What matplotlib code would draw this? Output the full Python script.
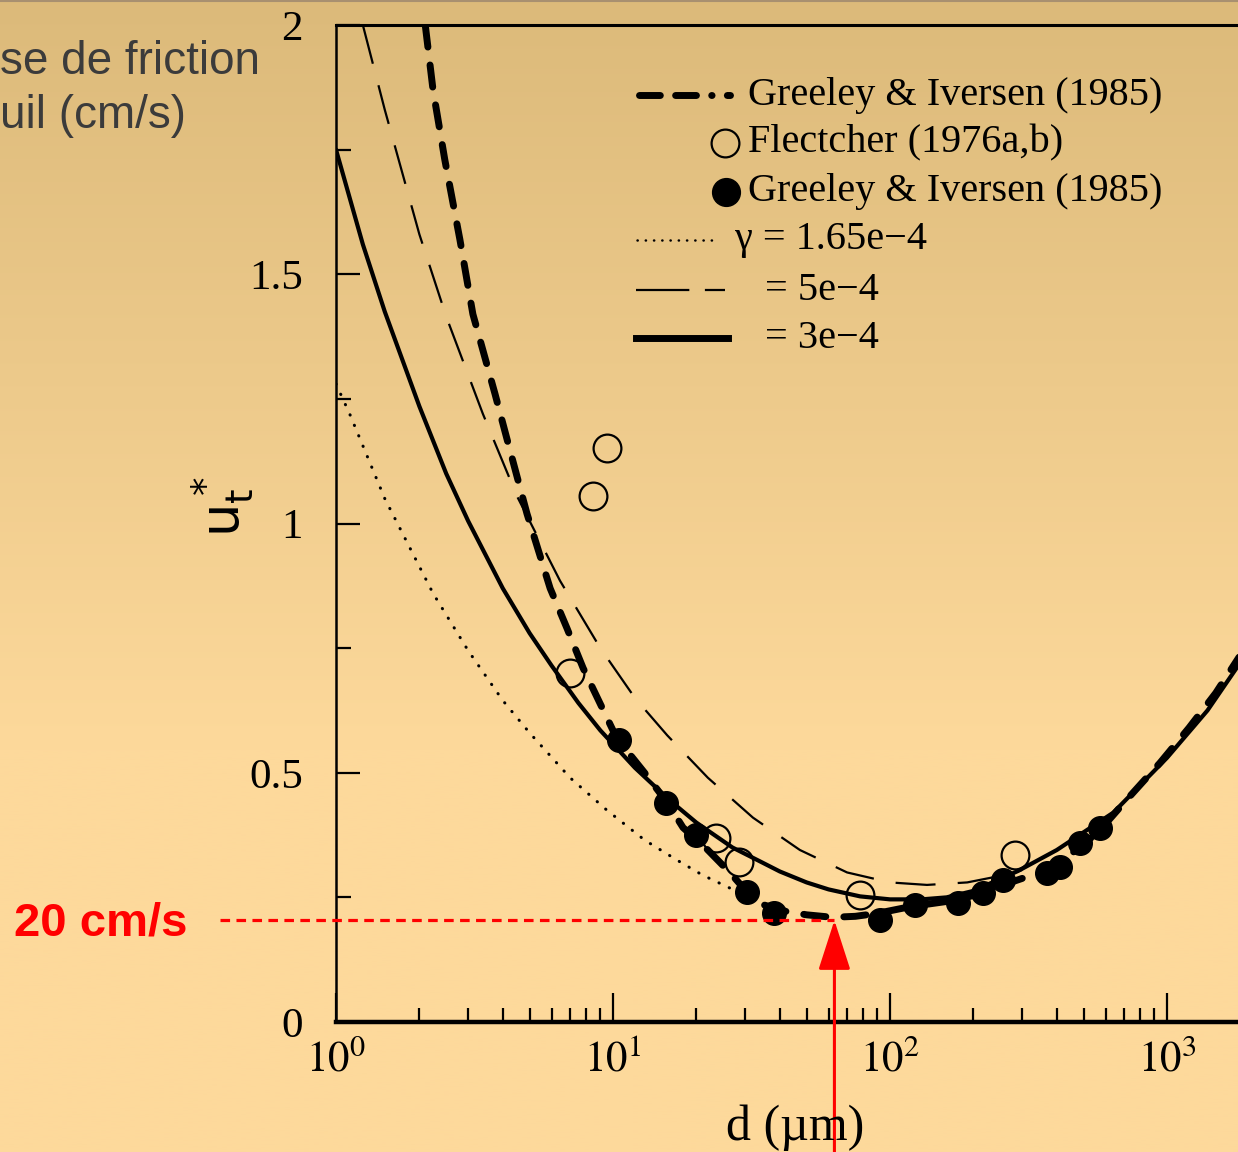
import numpy as np
import matplotlib
matplotlib.use("Agg")
import matplotlib.pyplot as plt
from matplotlib.ticker import LogLocator, NullFormatter, MultipleLocator

W, H = 1238, 1152

# courbes théoriques (d en µm, u*t en m/s)
d_g165 = [1.0, 1.12, 1.5, 2.24, 3.0, 4.0, 5.0, 7.0, 9.5, 13.0, 17.0, 21.0, 25.0, 28.0]
u_g165 = [1.28, 1.22, 1.05, 0.86, 0.745, 0.645, 0.58, 0.49, 0.425, 0.365, 0.325, 0.295, 0.275, 0.262]

d_g5 = [1.25, 1.5, 2.0, 2.5, 3.39, 4.5, 6.44, 9.0, 12.0, 15.7, 22.0, 32.0, 47.3, 70.0,
        100.0, 136.0, 190.0, 260.0, 300.0]
u_g5 = [2.0, 1.83, 1.58, 1.415, 1.22, 1.055, 0.885, 0.75, 0.65, 0.575, 0.49, 0.41, 0.345, 0.30,
        0.28, 0.275, 0.28, 0.295, 0.305]

d_g3 = [1.0, 1.25, 1.5, 2.0, 2.5, 3.0, 4.0, 5.0, 6.0, 7.5, 9.0, 12.0, 16.0, 20.0, 27.0, 34.0,
        40.0, 50.0, 60.0, 78.0, 100.0, 130.0, 160.0, 200.0, 290.0, 400.0, 640.0, 1000.0,
        1400.0, 1860.0]
u_g3 = [1.75, 1.56, 1.425, 1.235, 1.10, 1.005, 0.87, 0.78, 0.715, 0.64, 0.585, 0.51, 0.445, 0.40,
        0.35, 0.322, 0.302, 0.28, 0.266, 0.252, 0.246, 0.246, 0.25, 0.263, 0.303, 0.345, 0.42,
        0.53, 0.625, 0.725]

# courbe Greeley & Iversen (1985)
d_gi_curve = [2.1, 2.24, 2.47, 2.8, 3.12, 3.75, 4.14, 4.89, 5.93, 6.82, 7.8, 10.3, 13.0, 15.7,
              17.9, 22.0, 26.4, 30.0, 34.0, 42.0, 50.0, 62.0, 75.0, 90.0, 120.0, 176.0, 217.0,
              256.0, 369.0, 485.0, 573.0, 700.0, 944.0, 1200.0, 1500.0, 1860.0]
u_gi_curve = [2.0, 1.87, 1.73, 1.57, 1.42, 1.26, 1.17, 1.02, 0.87, 0.79, 0.71, 0.57, 0.50, 0.44,
              0.39, 0.345, 0.30, 0.265, 0.237, 0.222, 0.215, 0.21, 0.212, 0.218, 0.232, 0.245, 0.26,
              0.275, 0.305, 0.35, 0.385, 0.44, 0.52, 0.59, 0.66, 0.74]

# points mesurés
d_gi = [10.5, 15.5, 20.0, 30.5, 38.0, 92.0, 123.0, 176.0, 217.0, 256.0, 369.0, 411.0, 485.0, 573.0]
u_gi = [0.565, 0.44, 0.375, 0.26, 0.218, 0.205, 0.235, 0.238, 0.258, 0.285, 0.298, 0.31, 0.36, 0.39]

d_fl = [7.0, 8.5, 9.5, 23.5, 28.5, 78.0, 283.0]
u_fl = [0.70, 1.055, 1.152, 0.37, 0.32, 0.255, 0.335]

seuil_u = 0.204
seuil_d = 63.0
seuil_label = "20 cm/s"

xtick_vals = [1, 10, 100, 1000]
xtick_labels = [r"$10^{0}$", r"$10^{1}$", r"$10^{2}$", r"$10^{3}$"]
ytick_vals = [0, 0.5, 1, 1.5, 2]
ytick_labels = ["0", "0.5", "1", "1.5", "2"]

legend_labels = ["Greeley & Iversen (1985)", "Flectcher (1976a,b)", "Greeley & Iversen (1985)",
                 "\u03b3 = 1.65e\u22124", "= 5e\u22124", "= 3e\u22124"]

plt.rcParams["mathtext.fontset"] = "stix"
fig = plt.figure(figsize=(W / 100, H / 100), dpi=100)


def fx(px):
    return px / W


def fy(py):
    return 1 - py / H


# fond dégradé
bg = fig.add_axes([0, 0, 1, 1], zorder=-10)
haut = np.array([220, 186, 122]) / 255
bas = np.array([253, 217, 155]) / 255
t = np.clip(np.linspace(0, 1, 500) / 0.65, 0, 1)[:, None]
grad = haut + (bas - haut) * t
bg.imshow(grad[:, None, :], aspect="auto", extent=[0, 1, 0, 1])
bg.axis("off")
fig.add_artist(plt.Line2D([0, 1], [fy(0.5), fy(0.5)], transform=fig.transFigure,
                          color="#a89070", lw=1.5))

ax = fig.add_axes([fx(336), fy(1022), fx(1250) - fx(336), fy(25) - fy(1022)])
ax.set_facecolor("none")
ax.set_xscale("log")
ax.set_xlim(1, 10 ** ((1250 - 336) / 277))
ax.set_ylim(0, 2)

ax.spines["right"].set_visible(False)
ax.spines["top"].set_linewidth(2.2)
ax.spines["left"].set_linewidth(1.8)
ax.spines["bottom"].set_linewidth(3.2)

ax.set_xticks(xtick_vals, xtick_labels)
ax.xaxis.set_minor_locator(LogLocator(base=10, subs=np.arange(2, 10)))
ax.xaxis.set_minor_formatter(NullFormatter())
ax.set_yticks(ytick_vals, ytick_labels)
ax.yaxis.set_minor_locator(MultipleLocator(0.25))

ax.tick_params(which="both", direction="in", top=False, right=False, width=1.6, color="black")
ax.tick_params(axis="x", which="major", length=21, pad=12, labelsize=31)
ax.tick_params(axis="x", which="minor", length=10)
ax.tick_params(axis="y", which="major", length=17, pad=24, labelsize=31)
ax.tick_params(axis="y", which="minor", length=11)
for lab in ax.get_yticklabels():
    lab.set_family("Liberation Serif")

# courbes
ax.plot(d_g165, u_g165, color="black", lw=2.2, ls=(0, (0.1, 3.6)), dash_capstyle="round")
ax.plot(d_g5, u_g5, color="black", lw=1.6, ls=(0, (18, 10)))
ax.plot(d_g3, u_g3, color="black", lw=3.0, solid_capstyle="round")
ax.plot(d_gi_curve, u_gi_curve, color="black", lw=5.0, ls=(0, (3.2, 2.6)), dash_capstyle="round")
ax.plot(d_fl, u_fl, "o", ms=20, mfc="none", mec="black", mew=1.6, zorder=4)
ax.plot(d_gi, u_gi, "o", ms=17, mfc="black", mec="black", zorder=5)

# seuil 20 cm/s
x_gauche = ax.transData.inverted().transform(fig.transFigure.transform((fx(220), 0)))[0]
ax.plot([x_gauche, seuil_d], [seuil_u, seuil_u], color="red", lw=2.3, ls=(0, (3, 2)),
        clip_on=False, zorder=6)
ax.annotate("", xy=(seuil_d, seuil_u), xytext=(seuil_d, 0), textcoords=("data", "figure fraction"),
            arrowprops=dict(arrowstyle="-|>,head_length=31,head_width=10", mutation_scale=1,
                            color="red", lw=2.2, shrinkA=0, shrinkB=0),
            annotation_clip=False, zorder=7)
fig.text(fx(14), fy(936), seuil_label, color="red", fontsize=34, fontweight="bold",
         family="Liberation Sans", ha="left", va="baseline")

# textes
fig.text(fx(0), fy(74), "se de friction", color="#3b3b3b", fontsize=33,
         family="Liberation Sans", ha="left", va="baseline")
fig.text(fx(0), fy(128), "uil (cm/s)", color="#3b3b3b", fontsize=33,
         family="Liberation Sans", ha="left", va="baseline")
fig.text(fx(223), fy(507), r"$\mathrm{u}^*_\mathrm{t}$", rotation=90, fontsize=38,
         math_fontfamily="dejavusans", ha="center", va="center")
fig.text(fx(795), fy(1140), "d (\u00b5m)", family="Liberation Serif", fontsize=36,
         ha="center", va="baseline")

# légende
rows = [95, 143, 192, 240, 290, 338]
lx = [748, 748, 748, 735, 765, 765]
for y, x, lab in zip(rows, lx, legend_labels):
    fig.text(fx(x), fy(y), lab, family="Liberation Serif", fontsize=29, ha="left", va="center")

tf = fig.transFigure
fig.add_artist(plt.Line2D([fx(639), fx(730)], [fy(rows[0])] * 2, transform=tf, color="black",
                          lw=5.0, ls=(0, (3.0, 2.2, 3.0, 2.2, 0.05, 2.2)), dash_capstyle="round"))
fig.add_artist(plt.Line2D([fx(725)], [fy(rows[1])], transform=tf, marker="o", ms=20,
                          mfc="none", mec="black", mew=1.6, ls="none"))
fig.add_artist(plt.Line2D([fx(726)], [fy(rows[2])], transform=tf, marker="o", ms=20,
                          mfc="black", mec="black", ls="none"))
fig.add_artist(plt.Line2D([fx(637), fx(718)], [fy(rows[3])] * 2, transform=tf, color="black",
                          lw=1.8, ls=(0, (0.1, 3.2)), dash_capstyle="round"))
fig.add_artist(plt.Line2D([fx(636), fx(725)], [fy(rows[4])] * 2, transform=tf, color="black",
                          lw=1.6, ls=(0, (24, 7))))
fig.add_artist(plt.Line2D([fx(636), fx(728)], [fy(rows[5])] * 2, transform=tf, color="black",
                          lw=5))

fig.savefig("out.png", dpi=100)
